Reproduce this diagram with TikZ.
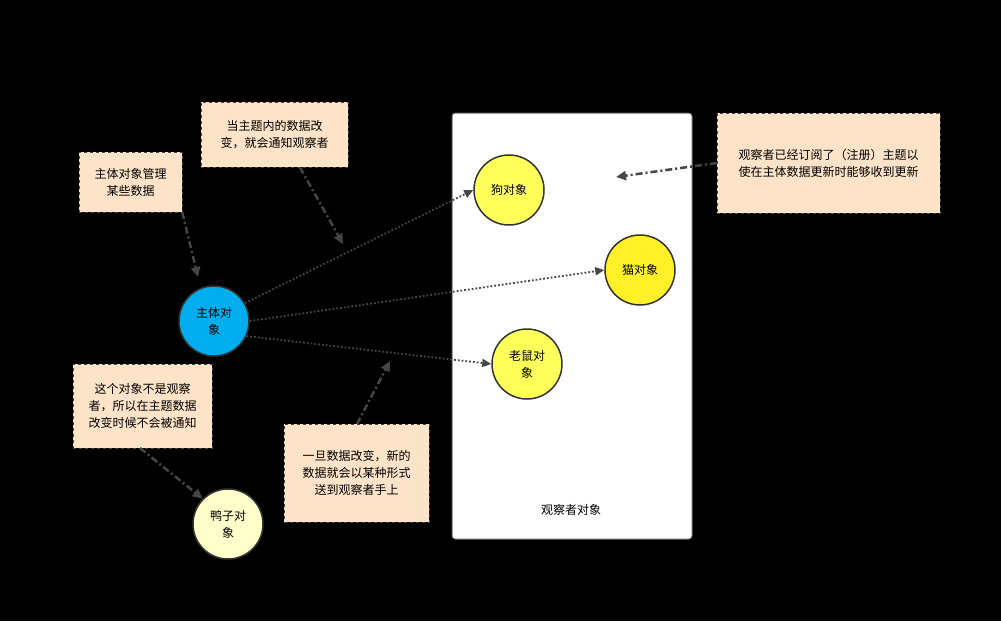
\documentclass[tikz,border=0pt]{standalone}
\usepackage{fontspec}
\setmainfont{Noto Sans CJK SC}
\usetikzlibrary{arrows.meta}
\definecolor{note}{HTML}{FDE3C8}
\definecolor{arr}{HTML}{454545}
\begin{document}
\begin{tikzpicture}[x=1pt,y=-1pt,font=\fontsize{12}{17}\selectfont,
  notebox/.style={draw=arr,dashed,fill=note,align=center,inner sep=0pt},
  circ/.style={circle,draw=black!80,line width=1.5pt,minimum size=70pt,inner sep=0pt,align=center},
  dotarrow/.style={arr,line width=1.8pt,dotted,-{Triangle[length=9pt,width=8pt]}},
  ddarrow/.style={arr,line width=2.5pt,dash pattern=on 7pt off 3pt on 2pt off 3pt,-{Triangle[length=10pt,width=9pt]}}]
\fill[black] (0,0) rectangle (1001,621);
\useasboundingbox (0,0) rectangle (1001,621);
\draw[fill=white,draw=black!60,rounded corners=3pt,line width=1pt] (452,113) rectangle (692,539);
\node (obs) at (571,510) {观察者对象};
\node[notebox,minimum width=103pt,minimum height=60pt] (na) at (130.5,182) {主体对象管理\\某些数据};
\node[notebox,minimum width=147pt,minimum height=65pt] (nb) at (274.5,134.5) {当主题内的数据改\\变，就会通知观察者};
\node[notebox,minimum width=223pt,minimum height=100pt] (nc) at (828.5,163) {观察者已经订阅了（注册）主题以\\使在主体数据更新时能够收到更新};
\node[notebox,minimum width=139pt,minimum height=84pt] (nd) at (142.5,406) {这个对象不是观察\\者，所以在主题数据\\改变时候不会被通知};
\node[notebox,minimum width=145pt,minimum height=98pt] (ne) at (356.5,473) {一旦数据改变，新的\\数据就会以某种形式\\送到观察者手上};
\node[circ,fill=cyan] (s) at (214,321) {主体对\\象};
\node[circ,fill={rgb,255:red,255;green,255;blue,90}] (dog) at (509,190) {狗对象};
\node[circ,fill={rgb,255:red,255;green,240;blue,40}] (cat) at (640,270) {猫对象};
\node[circ,fill={rgb,255:red,255;green,255;blue,90}] (mouse) at (527,364) {老鼠对\\象};
\node[circ,fill={rgb,255:red,255;green,255;blue,204}] (duck) at (228,524) {鸭子对\\象};
\draw[dotarrow] (s.30) -- (dog.west);
\draw[dotarrow] (s.east) -- (cat.west);
\draw[dotarrow] (s.-25) -- (mouse.west);
\coordinate (ta) at (198,277);
\coordinate (tb) at (343,244);
\coordinate (tc) at (616,177);
\coordinate (te) at (390,361);
\draw[ddarrow] (na.south east) -- (ta);
\draw[ddarrow] (300,167.5) -- (tb);
\draw[ddarrow] (nc.west) -- (tc);
\draw[ddarrow] (140,448) -- (duck.north west);
\draw[ddarrow] (357,424) -- (te);
\end{tikzpicture}
\end{document}
